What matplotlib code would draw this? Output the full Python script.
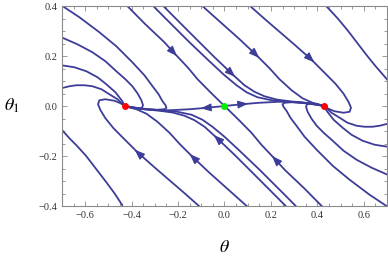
import numpy as np
import matplotlib
matplotlib.use("Agg")
import matplotlib.pyplot as plt

plt.rcParams['mathtext.fontset'] = 'stix'

# ---------------- data (theta, theta_1) ----------------
# upper-left family (come from the left edge, end in left sink)
ul1_th = [-0.703, -0.625, -0.539, -0.466, -0.397, -0.345, -0.310, -0.284, -0.267, -0.254, -0.250, -0.259, -0.289, -0.345, -0.388, -0.430]
ul1_th1 = [0.403, 0.355, 0.295, 0.239, 0.175, 0.123, 0.079, 0.047, 0.019, 0.003, -0.007, -0.013, -0.015, -0.013, -0.009, 0.0]
ul2_th = [-0.703, -0.634, -0.569, -0.513, -0.466, -0.427, -0.397, -0.375, -0.358, -0.351, -0.356, -0.371, -0.397, -0.430]
ul2_th1 = [0.275, 0.247, 0.215, 0.179, 0.139, 0.107, 0.079, 0.051, 0.023, 0.003, -0.007, -0.011, -0.009, 0.0]
ul3_th = [-0.703, -0.647, -0.595, -0.547, -0.509, -0.470, -0.440, -0.430]
ul3_th1 = [0.163, 0.155, 0.139, 0.115, 0.087, 0.055, 0.019, 0.0]
ul4_th = [-0.703, -0.668, -0.638, -0.603, -0.569, -0.530, -0.496, -0.461, -0.430]
ul4_th1 = [0.071, 0.079, 0.083, 0.083, 0.079, 0.067, 0.047, 0.027, 0.0]

# lower-right family (come from the right edge, end in right sink)
lr1_th = [0.703, 0.625, 0.539, 0.466, 0.397, 0.345, 0.310, 0.284, 0.267, 0.254, 0.250, 0.259, 0.289, 0.345, 0.388, 0.430]
lr1_th1 = [-0.403, -0.355, -0.295, -0.239, -0.175, -0.123, -0.079, -0.047, -0.019, -0.003, 0.007, 0.013, 0.015, 0.013, 0.009, 0.0]
lr2_th = [0.703, 0.634, 0.569, 0.513, 0.466, 0.427, 0.397, 0.375, 0.358, 0.351, 0.356, 0.371, 0.397, 0.430]
lr2_th1 = [-0.275, -0.247, -0.215, -0.179, -0.139, -0.107, -0.079, -0.051, -0.023, -0.003, 0.007, 0.011, 0.009, 0.0]
lr3_th = [0.703, 0.647, 0.595, 0.547, 0.509, 0.470, 0.440, 0.430]
lr3_th1 = [-0.163, -0.155, -0.139, -0.115, -0.087, -0.055, -0.019, 0.0]
lr4_th = [0.703, 0.668, 0.638, 0.603, 0.569, 0.530, 0.496, 0.461, 0.430]
lr4_th1 = [-0.071, -0.079, -0.083, -0.083, -0.079, -0.067, -0.047, -0.027, 0.0]

# separatrices into the saddle
t1_th = [-0.422, -0.341, -0.259, -0.216, -0.159, -0.116, -0.065, -0.030, 0.0]
t1_th1 = [0.403, 0.327, 0.255, 0.211, 0.155, 0.107, 0.059, 0.027, 0.0]
t2_th = [0.422, 0.341, 0.259, 0.216, 0.159, 0.116, 0.065, 0.030, 0.0]
t2_th1 = [-0.403, -0.327, -0.255, -0.211, -0.155, -0.107, -0.059, -0.027, 0.0]

# top-edge curves
a_th = [-0.267, -0.151, -0.043, 0.034, 0.086, 0.129, 0.172, 0.224, 0.280, 0.345, 0.401, 0.430]
a_th1 = [0.403, 0.295, 0.195, 0.127, 0.083, 0.057, 0.039, 0.026, 0.019, 0.013, 0.005, 0.0]
b_th = [-0.310, -0.259, -0.151, -0.065, 0.0, 0.052, 0.095, 0.142, 0.203, 0.280, 0.366, 0.430]
b_th1 = [0.403, 0.355, 0.255, 0.179, 0.123, 0.083, 0.055, 0.035, 0.023, 0.017, 0.009, 0.0]
d_th = [-0.099, -0.022, 0.065, 0.138, 0.194, 0.237, 0.289, 0.336, 0.379, 0.409, 0.430]
d_th1 = [0.403, 0.339, 0.267, 0.203, 0.151, 0.107, 0.063, 0.031, 0.013, 0.004, 0.0]
e_th = [0.104, 0.172, 0.237, 0.302, 0.375, 0.431, 0.478, 0.513, 0.534, 0.545, 0.539, 0.513, 0.474, 0.448, 0.430]
e_th1 = [0.405, 0.349, 0.297, 0.245, 0.185, 0.133, 0.089, 0.049, 0.017, -0.007, -0.023, -0.027, -0.021, -0.011, 0.0]
f_th = [0.435, 0.487, 0.530, 0.573, 0.616, 0.651, 0.681, 0.703]
f_th1 = [0.403, 0.351, 0.303, 0.251, 0.199, 0.159, 0.127, 0.103]

# bottom-edge curves
a2_th = [0.267, 0.151, 0.043, -0.034, -0.086, -0.129, -0.172, -0.224, -0.280, -0.345, -0.401, -0.430]
a2_th1 = [-0.403, -0.295, -0.195, -0.127, -0.083, -0.057, -0.039, -0.026, -0.019, -0.013, -0.005, 0.0]
b2_th = [0.310, 0.259, 0.151, 0.065, 0.0, -0.052, -0.095, -0.142, -0.203, -0.280, -0.366, -0.430]
b2_th1 = [-0.403, -0.355, -0.255, -0.179, -0.123, -0.083, -0.055, -0.035, -0.023, -0.017, -0.009, 0.0]
l3_th = [0.099, 0.022, -0.065, -0.138, -0.194, -0.237, -0.289, -0.336, -0.379, -0.409, -0.430]
l3_th1 = [-0.403, -0.339, -0.267, -0.203, -0.151, -0.107, -0.063, -0.031, -0.013, -0.004, 0.0]
l2_th = [-0.104, -0.172, -0.237, -0.302, -0.375, -0.431, -0.478, -0.513, -0.534, -0.545, -0.539, -0.513, -0.474, -0.448, -0.430]
l2_th1 = [-0.405, -0.349, -0.297, -0.245, -0.185, -0.133, -0.089, -0.049, -0.017, 0.007, 0.023, 0.027, 0.021, 0.011, 0.0]
l1_th = [-0.703, -0.668, -0.634, -0.595, -0.552, -0.509, -0.474, -0.440]
l1_th1 = [-0.093, -0.129, -0.161, -0.201, -0.253, -0.305, -0.349, -0.397]

# unstable manifold of the saddle (saddle -> sinks)
hr_th = [0.0, 0.043, 0.086, 0.151, 0.237, 0.323, 0.388, 0.430]
hr_th1 = [0.0, 0.004, 0.008, 0.013, 0.017, 0.015, 0.007, 0.0]
hl_th = [0.0, -0.043, -0.086, -0.151, -0.237, -0.323, -0.388, -0.430]
hl_th1 = [0.0, -0.004, -0.008, -0.013, -0.017, -0.015, -0.007, 0.0]

# equilibria
sink_th = [-0.43, 0.43]
sink_th1 = [0.0, 0.0]
saddle_th = [0.0]
saddle_th1 = [0.0]

x_ticks = [-0.6, -0.4, -0.2, 0.0, 0.2, 0.4, 0.6]
x_ticklabels = ['\u22120.6', '\u22120.4', '\u22120.2', '0.0', '0.2', '0.4', '0.6']
y_ticks = [-0.4, -0.2, 0.0, 0.2, 0.4]
y_ticklabels = ['\u22120.4', '\u22120.2', '0.0', '0.2', '0.4']

curves = [
    (ul1_th, ul1_th1, None), (ul2_th, ul2_th1, None), (ul3_th, ul3_th1, None), (ul4_th, ul4_th1, None),
    (lr1_th, lr1_th1, None), (lr2_th, lr2_th1, None), (lr3_th, lr3_th1, None), (lr4_th, lr4_th1, None),
    (t1_th, t1_th1, 3), (t2_th, t2_th1, 3),
    (a_th, a_th1, 3), (b_th, b_th1, None), (d_th, d_th1, 3), (e_th, e_th1, 4), (f_th, f_th1, None),
    (a2_th, a2_th1, 3), (b2_th, b2_th1, None), (l3_th, l3_th1, 3), (l2_th, l2_th1, 4), (l1_th, l1_th1, None),
    (hr_th, hr_th1, 2), (hl_th, hl_th1, 2),
]

# ---------------- drawing ----------------
col = '#3d3d99'
fig = plt.figure(figsize=(3.88, 2.60), dpi=100)
ax = fig.add_axes([62 / 388, 54 / 260, 325 / 388, 200 / 260])

for th, th1, arr in curves:
    ax.plot(th, th1, color=col, lw=1.3, solid_capstyle='round', solid_joinstyle='round', zorder=2)
    if arr is not None:
        p = np.array([th[arr], th1[arr]])
        dvec = np.array([th[arr + 1] - th[arr - 1], th1[arr + 1] - th1[arr - 1]])
        dvec = dvec / np.hypot(*dvec)
        ax.annotate('', xy=tuple(p + 0.016 * dvec), xytext=tuple(p - 0.03 * dvec),
                    arrowprops=dict(arrowstyle='-|>,head_length=0.45,head_width=0.17',
                                    color=col, lw=0.8, shrinkA=0, shrinkB=0,
                                    mutation_scale=14), zorder=3)

ax.plot(sink_th, sink_th1, 'o', color='#ff0000', ms=5, mec='none', zorder=4)
ax.plot(saddle_th, saddle_th1, 'o', color='#00ee00', ms=5, mec='none', zorder=4)

ax.set_xlim(-0.7, 0.7)
ax.set_ylim(-0.4, 0.4)
ax.set_xticks(x_ticks)
ax.set_xticklabels(x_ticklabels)
ax.set_yticks(y_ticks)
ax.set_yticklabels(y_ticklabels)
ax.set_xticks(np.arange(-0.7, 0.7001, 0.05), minor=True)
ax.set_yticks(np.arange(-0.4, 0.4001, 0.05), minor=True)

frame = '#8a8a8a'
for s in ax.spines.values():
    s.set_color(frame)
    s.set_linewidth(0.8)
ax.tick_params(which='both', direction='in', top=True, right=True, color=frame, width=0.6)
ax.tick_params(which='major', length=3.8, pad=3.5, labelsize=7.5, labelcolor='#333333')
ax.tick_params(which='minor', length=2.0)
for lab in ax.get_xticklabels() + ax.get_yticklabels():
    lab.set_family(['Liberation Serif', 'DejaVu Serif'])

ax.set_xlabel(r'$\theta$', fontsize=13, va='center')
ax.xaxis.set_label_coords(0.5, -0.205)
ax.set_ylabel(r'$\theta_1$', fontsize=13, rotation=0, va='center', ha='center')
ax.yaxis.set_label_coords(-0.155, 0.5)

fig.savefig('out.png', dpi=100)
